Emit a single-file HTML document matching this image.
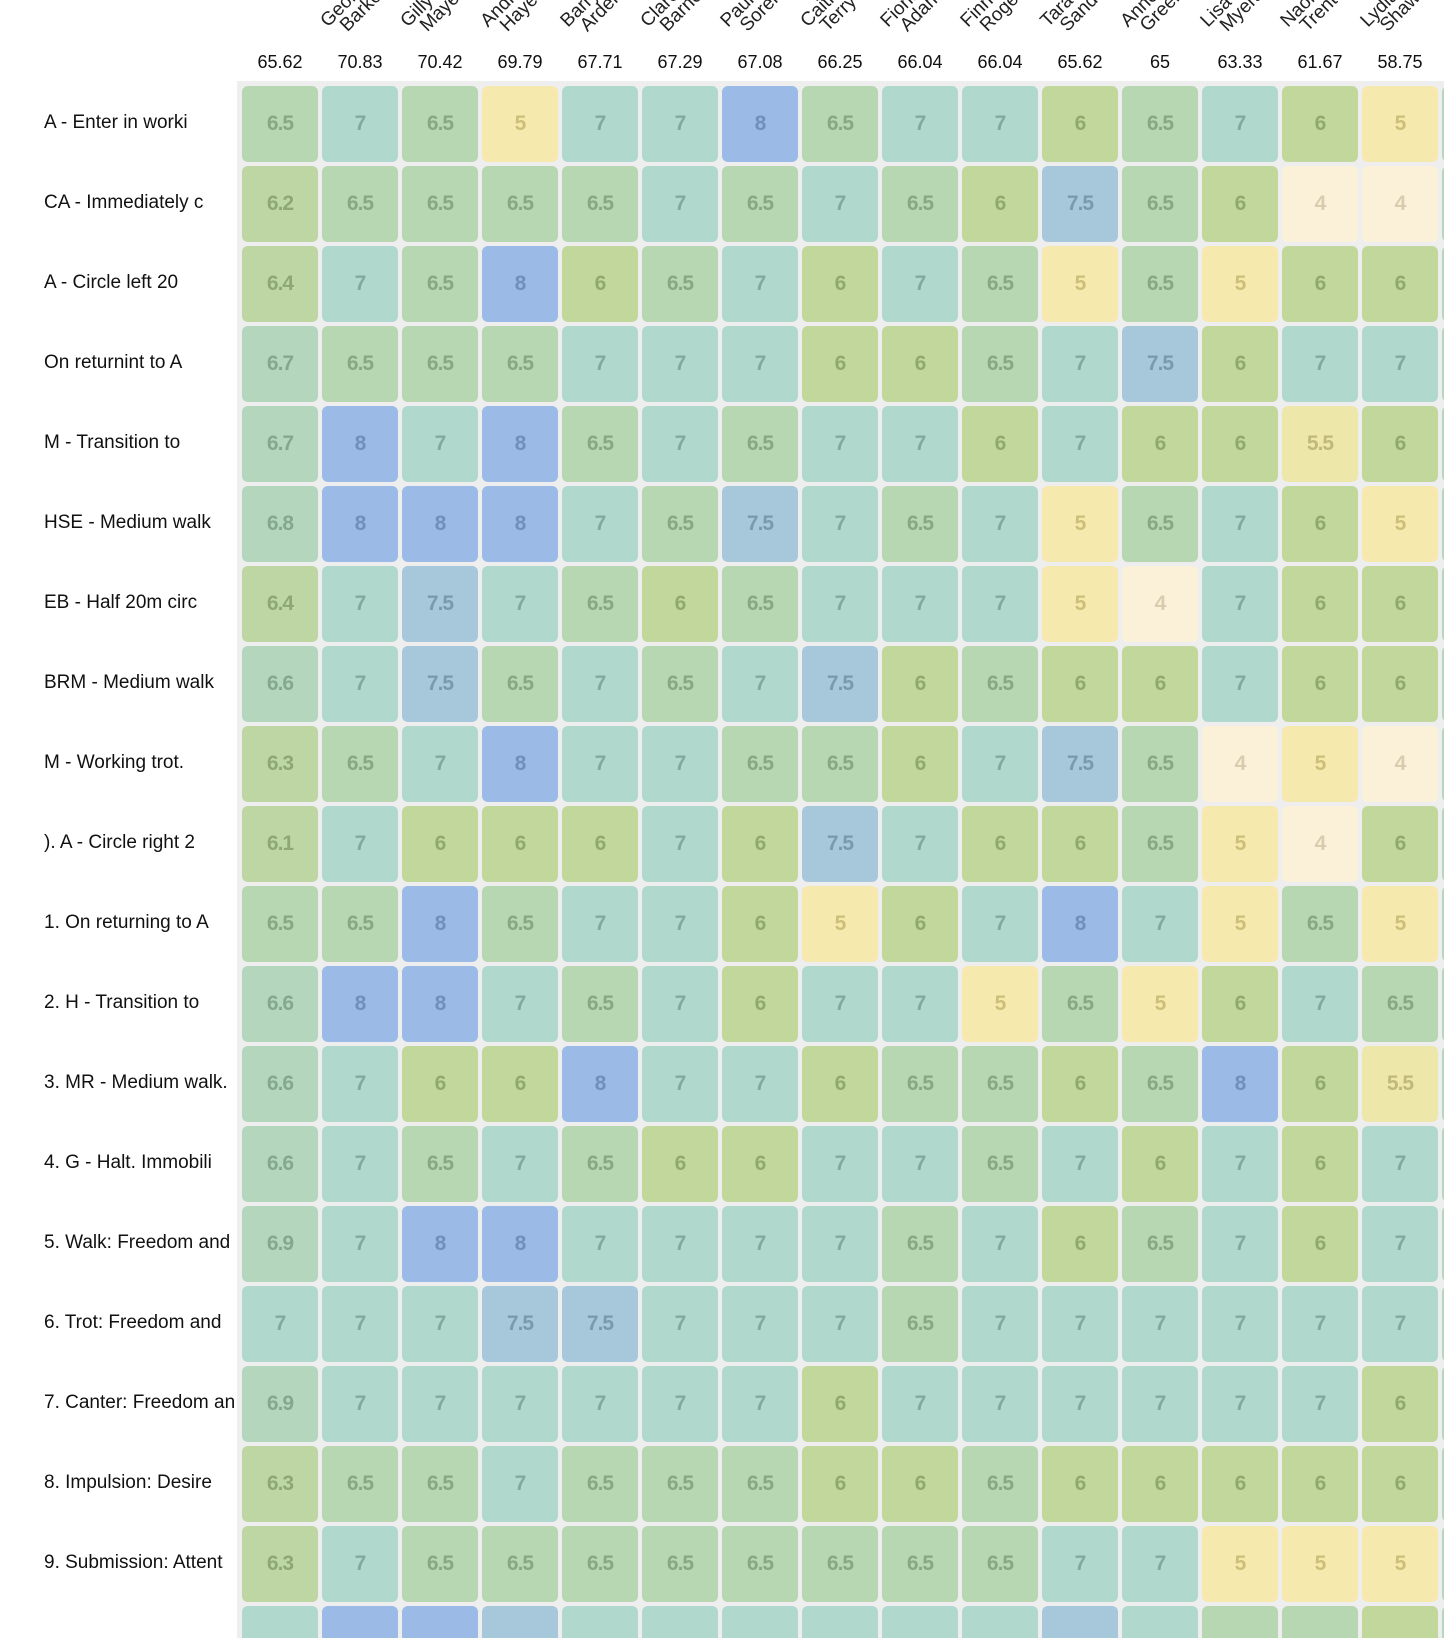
<!DOCTYPE html>
<html><head><meta charset="utf-8"><style>
html,body{margin:0;width:1444px;height:1638px;overflow:hidden;background:#fff}
body{font-family:"Liberation Sans",sans-serif;position:relative}
.c{position:absolute;width:76px;height:76px;border-radius:6px;display:flex;align-items:center;justify-content:center;font-weight:bold;font-size:21px;letter-spacing:-1px}
.h{position:absolute;top:52px;font-size:18px;color:#111;width:80px;text-align:center}
.l{position:absolute;left:44px;font-size:19px;color:#111;white-space:nowrap}
.n{position:absolute;font-size:19px;color:#222;transform-origin:0 100%;transform:rotate(-45deg);line-height:17px;white-space:nowrap}
#bg{position:absolute;left:237px;top:81px;width:1207px;height:1600px;background:#eeeeee}
</style></head><body>
<div id="bg"></div>
<div id="root"></div>
<script>
const heads=["65.62","70.83","70.42","69.79","67.71","67.29","67.08","66.25","66.04","66.04","65.62","65","63.33","61.67","58.75"];
const names=["","George<br>&nbsp;&nbsp;Barker","Gilly<br>&nbsp;&nbsp;Mayes","Andrea<br>&nbsp;&nbsp;Hayes","Barry<br>&nbsp;&nbsp;Arden","Clare<br>&nbsp;&nbsp;Barnes","Paula<br>&nbsp;&nbsp;Sorel","Caitlin<br>&nbsp;&nbsp;Terry","Fiona<br>&nbsp;&nbsp;Adams","Finn<br>&nbsp;&nbsp;Rogers","Tara<br>&nbsp;&nbsp;Sands","Anne<br>&nbsp;&nbsp;Green","Lisa<br>&nbsp;&nbsp;Myers","Naomi<br>&nbsp;&nbsp;Trent","Lydia<br>&nbsp;&nbsp;Shaw"];
const labels=["A - Enter in worki","CA - Immediately c","A - Circle left 20","On returnint to A","M - Transition to","HSE - Medium walk","EB - Half 20m circ","BRM - Medium walk","M - Working trot.","). A - Circle right 2","1. On returning to A","2. H - Transition to","3. MR - Medium walk.","4. G - Halt. Immobili","5. Walk: Freedom and","6. Trot: Freedom and","7. Canter: Freedom an","8. Impulsion: Desire","9. Submission: Attent"];
const D=[
"6.5 7 6.5 5 7 7 8 6.5 7 7 6 6.5 7 6 5",
"6.2 6.5 6.5 6.5 6.5 7 6.5 7 6.5 6 7.5 6.5 6 4 4",
"6.4 7 6.5 8 6 6.5 7 6 7 6.5 5 6.5 5 6 6",
"6.7 6.5 6.5 6.5 7 7 7 6 6 6.5 7 7.5 6 7 7",
"6.7 8 7 8 6.5 7 6.5 7 7 6 7 6 6 5.5 6",
"6.8 8 8 8 7 6.5 7.5 7 6.5 7 5 6.5 7 6 5",
"6.4 7 7.5 7 6.5 6 6.5 7 7 7 5 4 7 6 6",
"6.6 7 7.5 6.5 7 6.5 7 7.5 6 6.5 6 6 7 6 6",
"6.3 6.5 7 8 7 7 6.5 6.5 6 7 7.5 6.5 4 5 4",
"6.1 7 6 6 6 7 6 7.5 7 6 6 6.5 5 4 6",
"6.5 6.5 8 6.5 7 7 6 5 6 7 8 7 5 6.5 5",
"6.6 8 8 7 6.5 7 6 7 7 5 6.5 5 6 7 6.5",
"6.6 7 6 6 8 7 7 6 6.5 6.5 6 6.5 8 6 5.5",
"6.6 7 6.5 7 6.5 6 6 7 7 6.5 7 6 7 6 7",
"6.9 7 8 8 7 7 7 7 6.5 7 6 6.5 7 6 7",
"7 7 7 7.5 7.5 7 7 7 6.5 7 7 7 7 7 7",
"6.9 7 7 7 7 7 7 6 7 7 7 7 7 7 6",
"6.3 6.5 6.5 7 6.5 6.5 6.5 6 6 6.5 6 6 6 6 6",
"6.3 7 6.5 6.5 6.5 6.5 6.5 6.5 6.5 6.5 7 7 5 5 5",
"7 8 8 7.5 7 7 7 7 7 7 7.5 7 6.5 6.5 6"];
function col(v){v=+v;
if(v>=8)return["#9bbbe6","rgba(60,90,140,.45)"];
if(v>=7.5)return["#a6c8da","rgba(60,90,110,.42)"];
if(v>=7)return["#b1d8cc","rgba(60,100,90,.4)"];
if(v>=6.6)return["#b4d6bc","rgba(60,100,70,.4)"];
if(v>=6.5)return["#b7d6b2","rgba(60,100,60,.4)"];
if(v>=6.1)return["#bdd6a4","rgba(70,100,50,.4)"];
if(v>=6)return["#c2d79c","rgba(70,100,40,.4)"];
if(v>=5.5)return["#eee7aa","rgba(120,110,40,.38)"];
if(v>=5)return["#f6e9ad","rgba(140,120,40,.38)"];
return["#fbf1d9","rgba(140,120,80,.3)"];}
let h="";
heads.forEach((t,i)=>{h+=`<div class="h" style="left:${240+i*80}px">${t}</div>`;
if(names[i])h+=`<div class="n" style="left:${262+i*80}px;top:8px">${names[i]}</div>`;});
labels.forEach((t,r)=>{h+=`<div class="l" style="top:${112+r*80}px">${t}</div>`;});
D.forEach((row,r)=>{row.split(" ").forEach((v,c)=>{const [b,f]=col(v);
h+=`<div class="c" style="left:${242+c*80}px;top:${86+r*80}px;background:${b};color:${f}">${r<19?v:""}</div>`;});
h+=`<div class="c" style="left:1442px;top:${86+r*80}px;background:#b5d7c0"></div>`;});
document.getElementById("root").innerHTML=h;
</script>
</body></html>
